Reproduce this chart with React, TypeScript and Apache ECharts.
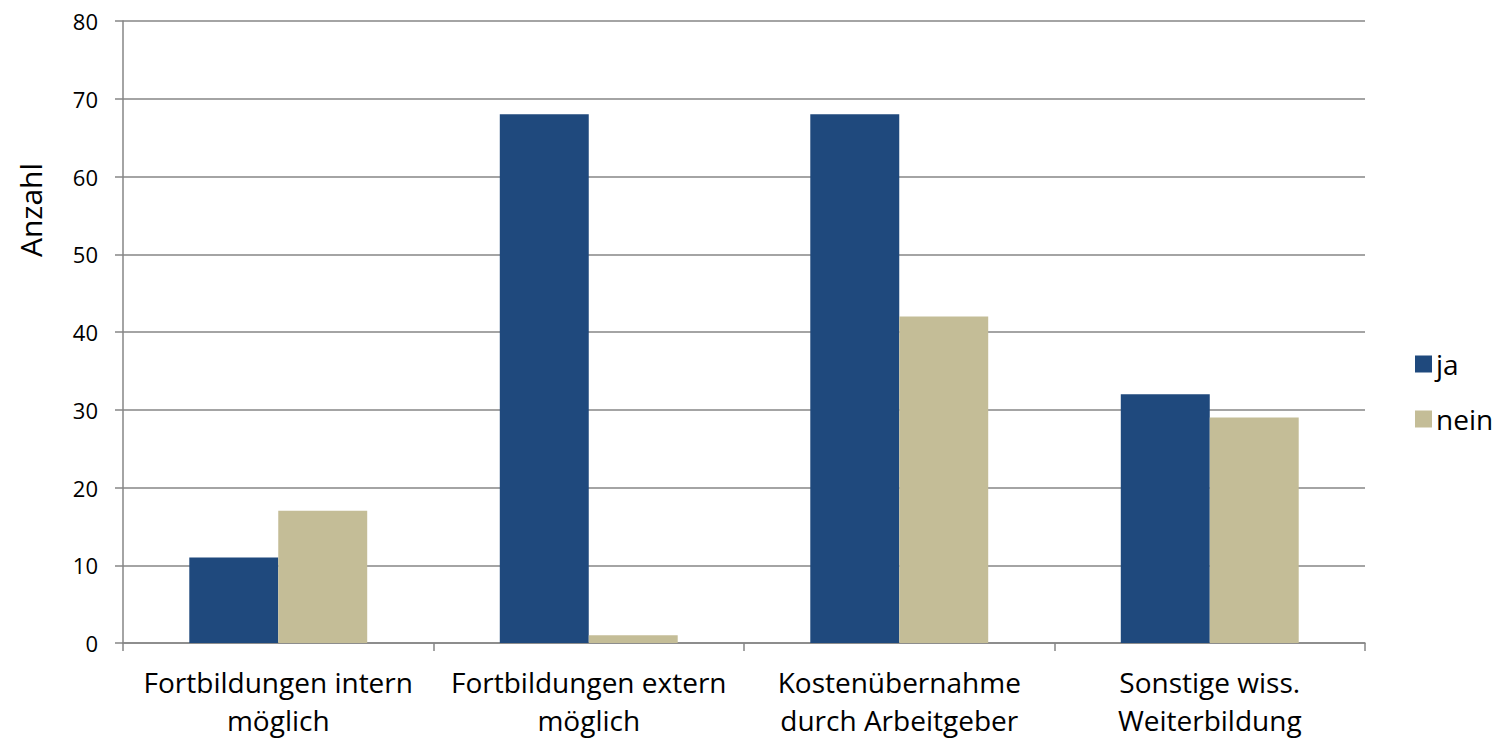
import React, { useEffect, useRef } from "react";
import * as echarts from "echarts";

const categories = [
  "Fortbildungen intern\nmöglich",
  "Fortbildungen extern\nmöglich",
  "Kostenübernahme\ndurch Arbeitgeber",
  "Sonstige wiss.\nWeiterbildung",
];
const jaValues = [11, 68, 68, 32];
const neinValues = [17, 1, 42, 29];
const seriesNames = ["ja", "nein"];
const yAxisTitle = "Anzahl";

const FONT = "'Open Sans', sans-serif";

export default function App() {
  const ref = useRef<HTMLDivElement>(null);
  useEffect(() => {
    document.body.style.margin = "0";
    const chart = echarts.init(ref.current!, null, { renderer: "svg" });
    chart.setOption({
      animation: false,
      backgroundColor: "#ffffff",
      textStyle: { fontFamily: FONT },
      grid: { left: 123, right: 132, top: 21, bottom: 98, containLabel: false },
      legend: {
        orient: "vertical",
        left: 1410,
        top: 345,
        itemWidth: 17,
        itemHeight: 17,
        itemGap: 27,
        icon: "rect",
        textStyle: { fontSize: 28, color: "#000", fontFamily: FONT, padding: [0, 0, 0, -1] },
        data: seriesNames,
      },
      xAxis: {
        type: "category",
        data: categories,
        axisLine: { lineStyle: { color: "#868686", width: 1.5 } },
        axisTick: { show: true, length: 8, lineStyle: { color: "#868686", width: 1.5 }, alignWithLabel: false },
        axisLabel: { fontSize: 28, color: "#000", lineHeight: 38, margin: 20, fontFamily: FONT, interval: 0 },
      },
      yAxis: {
        type: "value",
        min: 0,
        max: 80,
        interval: 10,
        axisLine: { show: true, lineStyle: { color: "#868686", width: 1.5 } },
        axisTick: { show: true, length: 8, lineStyle: { color: "#868686", width: 1.5 } },
        axisLabel: { fontSize: 22, color: "#000", margin: 25, fontFamily: FONT },
        splitLine: { show: true, lineStyle: { color: "#868686", width: 1.5 } },
      },
      graphic: [
        {
          type: "text",
          x: 30,
          y: 210,
          rotation: Math.PI / 2,
          style: {
            text: yAxisTitle,
            fontSize: 30,
            fill: "#000",
            fontFamily: FONT,
            align: "center",
            verticalAlign: "middle",
          },
        },
      ],
      series: [
        {
          name: seriesNames[0],
          type: "bar",
          data: jaValues,
          itemStyle: { color: "#1F497D" },
          barGap: "0%",
          barCategoryGap: "42.7%",
        },
        {
          name: seriesNames[1],
          type: "bar",
          data: neinValues,
          itemStyle: { color: "#C4BD97" },
          barGap: "0%",
          barCategoryGap: "42.7%",
        },
      ],
    });
    return () => chart.dispose();
  }, []);
  return <div ref={ref} style={{ width: 1497, height: 741 }} />;
}
